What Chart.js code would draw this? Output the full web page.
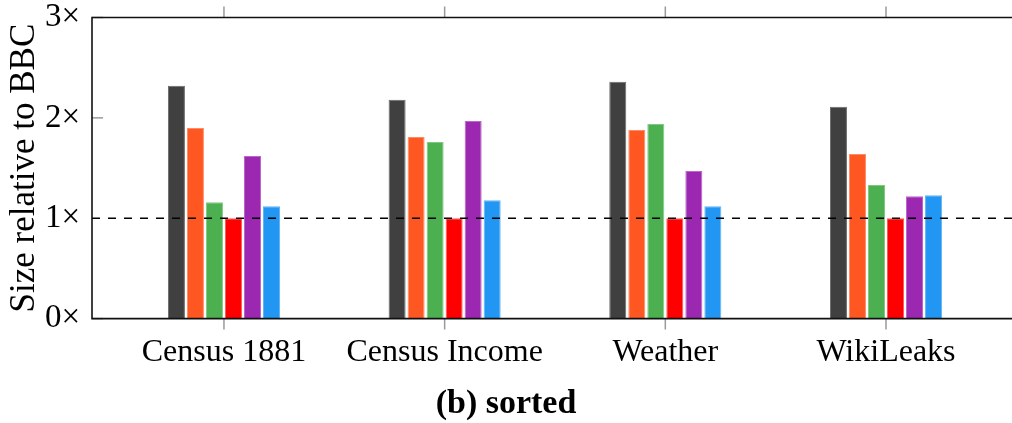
<!DOCTYPE html>
<html>
<head>
<meta charset="utf-8">
<script src="https://cdn.jsdelivr.net/npm/chart.js@4/dist/chart.umd.min.js"></script>
<style>
  html, body { margin: 0; padding: 0; background: #fff; }
  #wrap { width: 1012px; height: 423px; position: relative; }
</style>
</head>
<body>
<div id="wrap"><canvas id="c" width="1012" height="423"></canvas></div>
<script>
const categories = ["Census 1881", "Census Income", "Weather", "WikiLeaks"];
const yTickValues = [0, 1, 2, 3];
const yTickLabels = ["0×", "1×", "2×", "3×"];
const yTitle = "Size relative to BBC";
const chartTitle = "(b) sorted";
const baselineValue = 1;

const seriesDark   = [2.32, 2.18, 2.36, 2.11];
const seriesOrange = [1.90, 1.81, 1.88, 1.64];
const seriesGreen  = [1.16, 1.76, 1.94, 1.33];
const seriesRed    = [1.00, 1.00, 1.00, 1.00];
const seriesPurple = [1.62, 1.97, 1.47, 1.22];
const seriesBlue   = [1.12, 1.18, 1.12, 1.23];

const seriesList = [seriesDark, seriesOrange, seriesGreen, seriesRed, seriesPurple, seriesBlue];
const fills   = ["#404040", "#FF5722", "#4CAF50", "#FF0000", "#9C27B0", "#2196F3"];
const borders = ["#6a6a6a", "#ff8a65", "#81c784", "#ff5a5a", "#ba68c8", "#64b5f6"];

const datasets = seriesList.map((s, k) => ({
  data: s.map((v, i) => ({ x: i, y: v })),
  backgroundColor: fills[k],
  borderColor: borders[k],
  borderWidth: 1,
  borderSkipped: 'bottom',
  categoryPercentage: 0.517,
  barPercentage: 0.895
}));

const serif = "'Liberation Serif', 'DejaVu Serif', serif";

const framePlugin = {
  id: 'frame',
  afterDatasetsDraw(chart) {
    const { ctx, chartArea: a, scales: { x, y } } = chart;
    ctx.save();
    const yb = y.getPixelForValue(baselineValue);
    ctx.strokeStyle = '#000';
    ctx.lineWidth = 1.4;
    ctx.setLineDash([8, 8]);
    ctx.beginPath();
    ctx.moveTo(a.left, yb);
    ctx.lineTo(a.right, yb);
    ctx.stroke();
    ctx.setLineDash([]);
    ctx.strokeStyle = '#9a9a9a';
    ctx.lineWidth = 1.5;
    yTickValues.forEach(v => {
      const py = y.getPixelForValue(v);
      if (v === baselineValue) return;
      ctx.beginPath();
      ctx.moveTo(a.left, py);
      ctx.lineTo(a.left + 11, py);
      ctx.stroke();
    });
    categories.forEach((c, i) => {
      const px = x.getPixelForValue(i);
      ctx.beginPath();
      ctx.moveTo(px, a.top);
      ctx.lineTo(px, a.top - 11);
      ctx.moveTo(px, a.bottom);
      ctx.lineTo(px, a.bottom + 11);
      ctx.stroke();
    });
    ctx.strokeStyle = '#111';
    ctx.lineWidth = 1.6;
    ctx.beginPath();
    ctx.moveTo(a.right, a.top);
    ctx.lineTo(a.left, a.top);
    ctx.lineTo(a.left, a.bottom);
    ctx.lineTo(a.right, a.bottom);
    ctx.stroke();
    ctx.restore();
  }
};

new Chart(document.getElementById('c'), {
  type: 'bar',
  data: { datasets },
  options: {
    responsive: false,
    animation: false,
    events: [],
    layout: { padding: { top: 17.5, left: 0, right: 0, bottom: 0 } },
    plugins: {
      legend: { display: false },
      tooltip: { enabled: false },
      title: {
        display: true,
        position: 'bottom',
        text: chartTitle,
        color: '#000',
        font: { family: serif, size: 34, weight: 'bold', lineHeight: 1.1 },
        padding: { top: 15, bottom: 0 }
      }
    },
    scales: {
      x: {
        type: 'linear',
        offset: false,
        min: -0.598,
        max: 3.571,
        grid: { display: false, drawTicks: false, offset: false },
        border: { display: false },
        afterBuildTicks: (scale) => { scale.ticks = categories.map((c, i) => ({ value: i })); },
        afterFit: (scale) => { scale.height = 52; },
        ticks: {
          padding: 15,
          maxRotation: 0,
          autoSkip: false,
          color: '#000',
          font: { family: serif, size: 32, lineHeight: 1.2 },
          callback: (v) => categories[v] ?? ''
        }
      },
      y: {
        min: 0,
        max: 3,
        grid: { display: false, drawTicks: false },
        border: { display: false },
        afterBuildTicks: (scale) => { scale.ticks = yTickValues.map(v => ({ value: v })); },
        afterFit: (scale) => { scale.width = 92; },
        ticks: {
          padding: 12,
          color: '#000',
          font: { family: serif, size: 33, lineHeight: 0.2 },
          callback: (v) => yTickLabels[yTickValues.indexOf(v)]
        },
        title: {
          display: true,
          text: yTitle,
          color: '#000',
          font: { family: serif, size: 35, lineHeight: 1.0 },
          padding: { top: 7, bottom: 0 }
        }
      }
    }
  },
  plugins: [framePlugin]
});
</script>
</body>
</html>
